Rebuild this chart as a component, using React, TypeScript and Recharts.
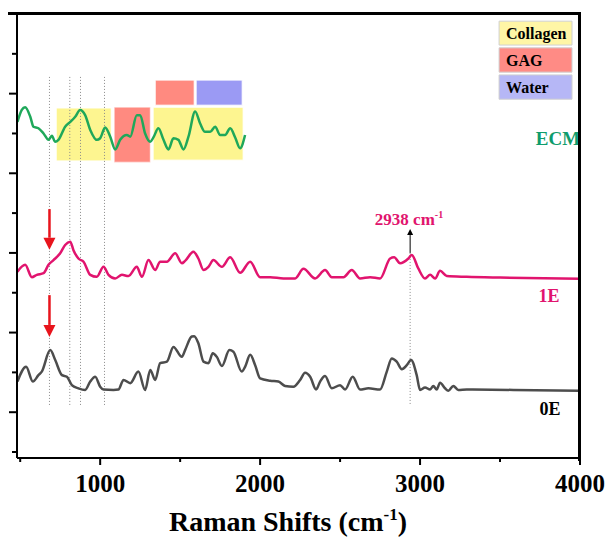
import { LineChart, Line, XAxis, YAxis, ReferenceArea, ReferenceLine, ReferenceDot } from 'recharts'

const serif = '"Liberation Serif", "Times New Roman", serif'

// Raman shift (cm-1) / intensity (a.u., offset per sample)
const ecmShift = [483, 510, 531, 563, 583, 614, 646, 677, 698, 719, 739, 781, 813, 844, 875, 906, 938, 979, 1000, 1031, 1063, 1094, 1125, 1167, 1188, 1229, 1250, 1281, 1313, 1333, 1364, 1396, 1427, 1458, 1489, 1521, 1552, 1594, 1625, 1656, 1688, 1719, 1750, 1781, 1813, 1844, 1875, 1906]
const ecmIntensity = [8.29, 8.59, 8.66, 8.42, 8.17, 8.13, 8.0, 7.84, 7.94, 7.79, 7.84, 8.17, 8.29, 8.42, 8.59, 8.46, 8.09, 7.84, 7.88, 8.15, 7.92, 7.6, 7.84, 7.96, 7.92, 8.46, 8.46, 8.0, 7.79, 7.9, 8.13, 7.84, 7.6, 7.88, 7.84, 7.6, 7.92, 8.55, 8.25, 8.04, 8.04, 8.17, 7.96, 7.96, 8.13, 7.9, 7.63, 7.96]

const e1Shift = [483, 531, 573, 604, 646, 677, 708, 750, 781, 813, 833, 864, 896, 938, 979, 1021, 1052, 1094, 1136, 1177, 1229, 1261, 1302, 1344, 1375, 1417, 1469, 1511, 1531, 1583, 1614, 1646, 1677, 1708, 1761, 1813, 1875, 1938, 2000, 2063, 2146, 2219, 2271, 2344, 2406, 2448, 2521, 2573, 2625, 2688, 2750, 2813, 2838, 2875, 2927, 2948, 2989, 3031, 3063, 3094, 3125, 3167, 3292, 3500, 4000]
const e1Intensity = [4.53, 4.7, 4.39, 4.45, 4.49, 4.7, 4.82, 4.99, 5.2, 5.28, 5.07, 4.86, 4.78, 4.45, 4.4, 4.65, 4.45, 4.36, 4.45, 4.42, 4.65, 4.4, 4.82, 4.57, 4.78, 4.78, 4.99, 4.74, 4.8, 5.03, 4.86, 4.57, 4.65, 4.82, 4.65, 4.89, 4.5, 4.78, 4.39, 4.39, 4.36, 4.36, 4.6, 4.36, 4.57, 4.39, 4.39, 4.57, 4.36, 4.39, 4.36, 4.86, 4.89, 4.74, 4.86, 4.95, 4.61, 4.36, 4.45, 4.36, 4.55, 4.42, 4.4, 4.38, 4.35]

const e0Shift = [483, 537, 579, 614, 635, 688, 719, 761, 792, 823, 864, 906, 938, 969, 1000, 1021, 1083, 1114, 1146, 1188, 1239, 1281, 1313, 1344, 1375, 1417, 1458, 1511, 1531, 1573, 1588, 1614, 1646, 1677, 1704, 1729, 1761, 1808, 1833, 1885, 1906, 1938, 1969, 2000, 2063, 2114, 2156, 2208, 2250, 2281, 2313, 2350, 2375, 2406, 2448, 2500, 2531, 2579, 2625, 2677, 2750, 2792, 2823, 2854, 2886, 2917, 2944, 2979, 3000, 3031, 3063, 3083, 3104, 3125, 3156, 3177, 3208, 3239, 3292, 3583, 4000]
const e0Intensity = [1.77, 2.14, 1.77, 1.93, 2.02, 2.56, 2.31, 1.93, 1.89, 1.68, 1.6, 1.56, 1.77, 1.89, 1.64, 1.57, 1.56, 1.57, 1.81, 1.73, 2.02, 1.56, 2.06, 1.81, 2.23, 2.27, 2.64, 2.39, 2.56, 2.9, 2.91, 2.73, 2.27, 2.23, 2.48, 2.39, 2.16, 2.56, 2.52, 2.02, 2.14, 2.44, 2.18, 1.85, 1.79, 1.77, 1.66, 1.64, 1.81, 1.99, 1.89, 1.57, 1.77, 1.91, 1.6, 1.68, 1.57, 1.89, 1.57, 1.6, 1.57, 2.02, 2.35, 2.27, 2.08, 2.18, 2.31, 1.93, 1.56, 1.62, 1.57, 1.66, 1.57, 1.74, 1.6, 1.54, 1.66, 1.56, 1.57, 1.56, 1.54]

const xTicks = [500, 1000, 1500, 2000, 2500, 3000, 3500, 4000]
const yTicks = [0, 1, 2, 3, 4, 5, 6, 7, 8, 9, 10]

// assignment bands
const bandNames = ['Collagen', 'GAG', 'Collagen', 'GAG', 'Water']
const bandFrom = [725, 1088, 1331, 1344, 1600]
const bandTo = [1069, 1313, 1894, 1588, 1888]
const bandLow = [7.31, 7.28, 7.33, 8.71, 8.71]
const bandHigh = [8.64, 8.66, 8.66, 9.34, 9.34]

const markerLines = [683, 810, 877, 1027]

const legendNames = ['Collagen', 'GAG', 'Water']
const legendColors = ['#fff6a6', '#ff8b85', '#b6b7f6']
const bandColors: Record<string, string> = { Collagen: '#fdf590', GAG: '#ff8a80', Water: '#9b9af4' }

const pts = (xs: number[], ys: number[]) => xs.map((x, i) => ({ x, y: ys[i] }))

const ecm = pts(ecmShift, ecmIntensity)
const e1 = pts(e1Shift, e1Intensity)
const e0 = pts(e0Shift, e0Intensity)

function XTick({ x, y, payload }: any) {
	const major = payload.value % 1000 === 0
	return (
		<g>
			<line x1={x} x2={x} y1={y} y2={y + (major ? 7 : 4)} stroke="#000" strokeWidth={2} />
			{major && (
				<text x={x} y={y + 34} textAnchor="middle" fontFamily={serif} fontWeight="bold" fontSize={25} fill="#000">
					{payload.value}
				</text>
			)}
		</g>
	)
}

function YTick({ x, y, payload }: any) {
	const len = payload.value % 2 === 1 ? 8 : 5
	return <line x1={x - len} x2={x} y1={y} y2={y} stroke="#000" strokeWidth={2} />
}

function arrow(color: string, width: number, head: number) {
	return (p: any) => {
		const { x1, y1, x2, y2 } = p
		const dir = y2 > y1 ? 1 : -1
		return (
			<g>
				<line x1={x1} y1={y1} x2={x2} y2={y2 - dir * head} stroke={color} strokeWidth={width} />
				<polygon
					points={`${x2 - head / 2},${y2 - dir * head} ${x2 + head / 2},${y2 - dir * head} ${x2},${y2}`}
					fill={color}
				/>
			</g>
		)
	}
}

export default function App() {
	return (
		<div style={{ position: 'absolute', left: 0, top: 0, width: 607, height: 538, background: '#fff' }}>
			<LineChart width={607} height={538} margin={{ top: 14, right: 27, left: 0, bottom: 0 }}>
				<defs>
					<linearGradient id="ecmStroke" x1="0" y1="0" x2="1" y2="0">
						<stop offset="0%" stopColor="#069a7c" />
						<stop offset="25%" stopColor="#1fa85a" />
						<stop offset="100%" stopColor="#35b54a" />
					</linearGradient>
				</defs>
				<XAxis
					type="number"
					dataKey="x"
					domain={[480, 4000]}
					ticks={xTicks}
					allowDataOverflow
					height={80}
					tickSize={0}
					tickMargin={0}
					tickLine={false}
					tick={<XTick />}
					axisLine={{ stroke: '#000', strokeWidth: 2 }}
					label={{
						content: ({ viewBox }: any) => (
							<text
								x={288}
								y={viewBox.y + 73}
								textAnchor="middle"
								fontFamily={serif}
								fontWeight="bold"
								fontSize={28}
								fill="#000"
							>
								Raman Shifts (cm
								<tspan dy={-11} fontSize={17}>-1</tspan>
								<tspan dy={11}>)</tspan>
							</text>
						),
					}}
				/>
				<YAxis
					type="number"
					dataKey="y"
					domain={[-0.15, 11]}
					ticks={yTicks}
					allowDataOverflow
					width={17}
					tickSize={0}
					tickMargin={0}
					tickLine={false}
					tick={<YTick />}
					axisLine={{ stroke: '#000', strokeWidth: 2 }}
				/>

				{bandNames.map((n, i) => (
					<ReferenceArea
						key={'band' + i}
						x1={bandFrom[i]}
						x2={bandTo[i]}
						y1={bandLow[i]}
						y2={bandHigh[i]}
						fill={bandColors[n]}
						fillOpacity={1}
						stroke="#fff"
						strokeWidth={1}
					/>
				))}

				{markerLines.map((m) => (
					<ReferenceLine
						key={'m' + m}
						segment={[
							{ x: m, y: 9.42 },
							{ x: m, y: 1.18 },
						]}
						stroke="#8a8a8a"
						strokeWidth={1}
						strokeDasharray="1 2"
					/>
				))}
				<ReferenceLine
					segment={[
						{ x: 2938, y: 5.0 },
						{ x: 2938, y: 1.18 },
					]}
					stroke="#8a8a8a"
					strokeWidth={1}
					strokeDasharray="1 2"
				/>

				<Line data={ecm} dataKey="y" type="monotone" stroke="#1fa85a" strokeWidth={2.5} dot={false} isAnimationActive={false} />
				<Line data={e1} dataKey="y" type="monotone" stroke="#e1146e" strokeWidth={2.5} dot={false} isAnimationActive={false} />
				<Line data={e0} dataKey="y" type="monotone" stroke="#4d4d4d" strokeWidth={2.5} dot={false} isAnimationActive={false} />

				{/* GAG band tints the ECM trace that runs through it */}
				<ReferenceArea x1={1088} x2={1313} y1={7.28} y2={8.66} fill="#ff8a80" fillOpacity={0.45} stroke="none" />

				<ReferenceLine
					segment={[
						{ x: 683, y: 6.1 },
						{ x: 683, y: 5.08 },
					]}
					shape={arrow('#e8141c', 2.5, 12)}
				/>
				<ReferenceLine
					segment={[
						{ x: 683, y: 3.94 },
						{ x: 683, y: 2.89 },
					]}
					shape={arrow('#e8141c', 2.5, 12)}
				/>
				<ReferenceLine
					segment={[
						{ x: 2938, y: 5.0 },
						{ x: 2938, y: 5.6 },
					]}
					shape={arrow('#000', 1, 6)}
				/>

				{legendNames.map((n, i) => (
					<ReferenceArea
						key={'leg' + n}
						x1={3494}
						x2={3950}
						y1={[10.22, 9.54, 8.86][i]}
						y2={[10.82, 10.15, 9.47][i]}
						fill={legendColors[i]}
						fillOpacity={1}
						stroke="#d0d0d0"
						strokeWidth={1}
						label={{
							value: n,
							position: 'insideLeft',
							offset: 7,
							fill: '#000',
							fontSize: 16,
							fontWeight: 'bold',
							fontFamily: serif,
						}}
					/>
				))}

				<ReferenceDot
					x={3862}
					y={7.89}
					r={0}
					fill="none"
					stroke="none"
					label={{ value: 'ECM', position: 'center', fill: '#0f9c6c', fontSize: 19, fontWeight: 'bold', fontFamily: serif }}
				/>
				<ReferenceDot
					x={3806}
					y={3.92}
					r={0}
					fill="none"
					stroke="none"
					label={{ value: '1E', position: 'center', fill: '#e1146e', fontSize: 18, fontWeight: 'bold', fontFamily: serif }}
				/>
				<ReferenceDot
					x={3812}
					y={1.1}
					r={0}
					fill="none"
					stroke="none"
					label={{ value: '0E', position: 'center', fill: '#000', fontSize: 18, fontWeight: 'bold', fontFamily: serif }}
				/>
				<ReferenceDot
					x={2931}
					y={5.85}
					r={0}
					fill="none"
					stroke="none"
					label={{
						content: ({ viewBox }: any) => (
							<text
								x={viewBox.x}
								y={viewBox.y + 6}
								textAnchor="middle"
								fontFamily={serif}
								fontWeight="bold"
								fontSize={17}
								fill="#e1146e"
							>
								2938 cm
								<tspan dy={-7} fontSize={10}>-1</tspan>
							</text>
						),
					}}
				/>
			</LineChart>
			{/* top and right edges of the frame */}
			<div
				style={{
					position: 'absolute',
					left: 8,
					top: 12,
					width: 570,
					height: 446,
					borderTop: '3px solid #000',
					borderRight: '3px solid #000',
					zIndex: 10,
					pointerEvents: 'none',
				}}
			/>
		</div>
	)
}
